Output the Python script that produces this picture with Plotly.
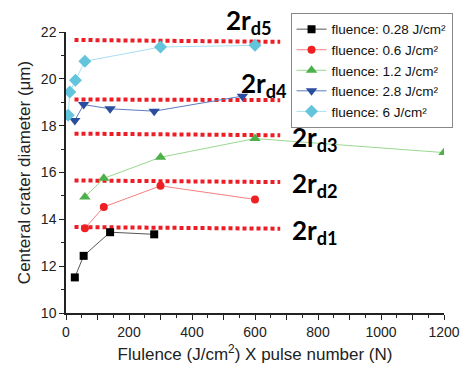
import plotly.graph_objects as go

# data
x_028 = [28, 56, 140, 280]
y_028 = [11.52, 12.44, 13.45, 13.36]
x_06 = [60, 120, 300, 600]
y_06 = [13.62, 14.53, 15.43, 14.85]
x_12 = [60, 120, 300, 600, 1200]
y_12 = [14.95, 15.75, 16.65, 17.45, 16.85]
x_28 = [28, 56, 140, 280, 560]
y_28 = [18.22, 18.9, 18.72, 18.62, 19.26]
x_6 = [7, 12, 30, 60, 300, 600]
y_6 = [18.45, 19.44, 19.94, 20.75, 21.36, 21.43]

series_names = ["fluence: 0.28 J/cm²", "fluence: 0.6 J/cm²",
                "fluence: 1.2 J/cm²", "fluence: 2.8 J/cm²",
                "fluence: 6 J/cm²"]

# threshold lines (left, right values)
rd_x = [27, 680]
rd_labels = ["2r<sub>d1</sub>", "2r<sub>d2</sub>", "2r<sub>d3</sub>", "2r<sub>d4</sub>", "2r<sub>d5</sub>"]
rd_y = [[13.67, 13.60], [15.66, 15.59], [17.66, 17.59], [19.12, 19.09], [21.66, 21.58]]
rd_label_pos = [(712, 13.5), (712, 15.49), (712, 17.46), (548, 19.77), (503, 22.43)]

x_tickvals = [0, 100, 200, 300, 400, 500, 600, 700, 800, 900, 1000, 1100, 1200]
x_ticktext = ["0", "", "200", "", "400", "", "600", "", "800", "", "1000", "", "1200"]
y_tickvals = [10, 12, 14, 16, 18, 20, 22]
Y_MIN, Y_MAX = 10, 22

fig = go.Figure()

for ys in rd_y:
    fig.add_trace(go.Scatter(x=rd_x, y=ys, mode="lines", showlegend=False, hoverinfo="skip",
                             line=dict(color="#ee1c24", width=4, dash="4px,3px")))

styles = [
    dict(lc="#555555", mc="#000000", sym="square", size=8),
    dict(lc="#f58080", mc="#ee2024", sym="circle", size=8),
    dict(lc="#9ad890", mc="#4db04a", sym="triangle-up", size=10),
    dict(lc="#5a7cc0", mc="#2b4d9e", sym="triangle-down", size=10),
    dict(lc="#a8dff0", mc="#62c5dc", sym="diamond", size=10),
]
xs = [x_028, x_06, x_12, x_28, x_6]
ys_all = [y_028, y_06, y_12, y_28, y_6]
for xv, yv, name, st in zip(xs, ys_all, series_names, styles):
    fig.add_trace(go.Scatter(x=xv, y=yv, mode="lines+markers", name=name,
                             line=dict(color=st["lc"], width=1),
                             marker=dict(color=st["mc"], symbol=st["sym"], size=st["size"])))

for lab, (lx, ly) in zip(rd_labels, rd_label_pos):
    fig.add_annotation(x=lx, y=(ly - Y_MIN) / (Y_MAX - Y_MIN), xref="x", yref="paper",
                       text="<b>" + lab + "</b>",
                       showarrow=False, xanchor="left", yanchor="middle",
                       font=dict(family="Lato, Open Sans, sans-serif", size=26, color="#000"))

fig.update_layout(
    width=470, height=367,
    margin=dict(l=58, r=34, t=24, b=62, autoexpand=False),
    plot_bgcolor="white", paper_bgcolor="white",
    font=dict(family="Liberation Sans, Arial, sans-serif", size=14, color="#222"),
    legend=dict(x=0.594, y=1.068, xanchor="left", yanchor="top",
                bgcolor="white", bordercolor="#888", borderwidth=1,
                font=dict(size=13.5, color="#111"), tracegroupgap=0),
    showlegend=True,
)
fig.update_xaxes(range=[0, 1200], tickvals=x_tickvals, ticktext=x_ticktext, automargin=False,
                 ticks="outside", ticklen=5, tickcolor="#222", showline=True, linecolor="#222",
                 linewidth=1.5, showgrid=False, zeroline=False,
                 minor=dict(ticks="outside", ticklen=3, dtick=50, tickcolor="#222"),
                 title=dict(text="Flulence (J/cm<sup>2</sup>) X pulse number (N)", standoff=10))
fig.update_yaxes(range=[Y_MIN, Y_MAX], tickvals=y_tickvals, automargin=False,
                 ticks="outside", ticklen=5, tickcolor="#222", showline=True, linecolor="#222",
                 linewidth=1.5, showgrid=False, zeroline=False,
                 minor=dict(ticks="outside", ticklen=3, dtick=1, tickcolor="#222"),
                 title=dict(text="Centeral crater diameter (μm)", standoff=6))

fig.write_html("out.html")
